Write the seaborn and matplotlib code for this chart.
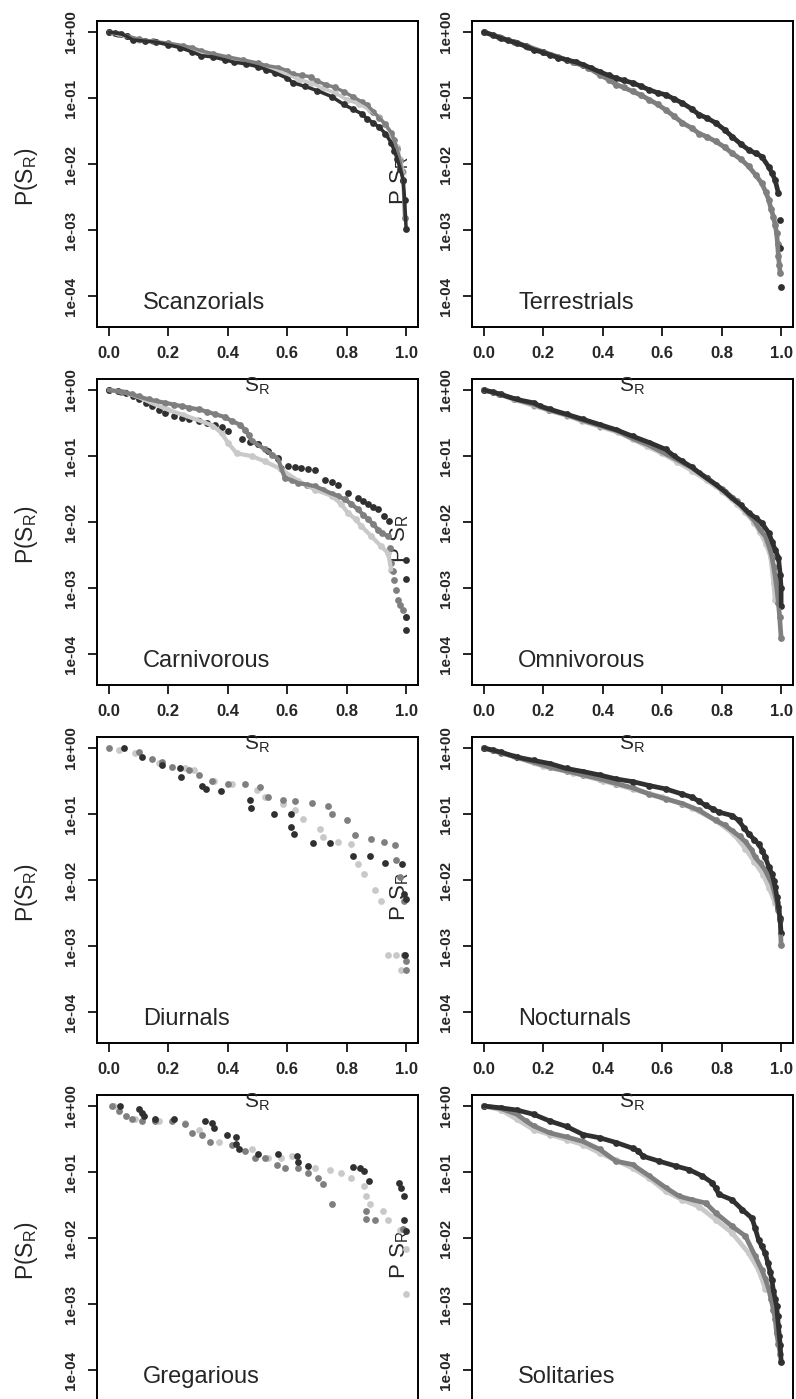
import matplotlib
matplotlib.use("Agg")
import matplotlib.pyplot as plt
from matplotlib import font_manager
import seaborn as sns

# Curvas P(S_R) (escuro / cinza médio / cinza claro)

# Scanzorials
scan_dark_x = [0.00, 0.02, 0.04, 0.06, 0.08, 0.12, 0.16, 0.20, 0.24, 0.28, 0.31, 0.35, 0.39, 0.42, 0.46, 0.50, 0.53, 0.56, 0.60, 0.62, 0.66, 0.70, 0.75, 0.79, 0.82, 0.85, 0.87, 0.89, 0.91, 0.93, 0.95, 0.96, 0.97, 0.98, 0.99, 0.995, 1.00]
scan_dark_p = [1.00, 0.97, 0.94, 0.86, 0.76, 0.73, 0.70, 0.64, 0.58, 0.50, 0.44, 0.42, 0.38, 0.35, 0.33, 0.30, 0.27, 0.24, 0.20, 0.17, 0.15, 0.13, 0.105, 0.080, 0.068, 0.058, 0.048, 0.042, 0.036, 0.029, 0.021, 0.016, 0.012, 0.0085, 0.0058, 0.0029, 0.00105]
scan_mid_x = [0.00, 0.03, 0.06, 0.10, 0.15, 0.20, 0.25, 0.28, 0.31, 0.35, 0.40, 0.45, 0.50, 0.53, 0.57, 0.60, 0.62, 0.65, 0.68, 0.70, 0.73, 0.76, 0.79, 0.82, 0.85, 0.87, 0.89, 0.91, 0.93, 0.95, 0.96, 0.97, 0.98, 0.985, 0.99, 0.995]
scan_mid_p = [1.00, 0.95, 0.88, 0.78, 0.72, 0.68, 0.62, 0.58, 0.52, 0.47, 0.42, 0.38, 0.34, 0.31, 0.29, 0.26, 0.23, 0.22, 0.21, 0.18, 0.16, 0.145, 0.125, 0.105, 0.088, 0.078, 0.062, 0.050, 0.040, 0.030, 0.023, 0.017, 0.011, 0.0078, 0.0055, 0.0015]
scan_light_x = [0.00, 0.10, 0.20, 0.30, 0.40, 0.50, 0.60, 0.64, 0.68, 0.72, 0.76, 0.80, 0.84, 0.88, 0.91, 0.93, 0.95, 0.97, 0.98, 0.99]
scan_light_p = [1.00, 0.76, 0.66, 0.50, 0.40, 0.32, 0.23, 0.19, 0.17, 0.14, 0.12, 0.095, 0.082, 0.065, 0.052, 0.040, 0.028, 0.018, 0.012, 0.0075]

# Terrestrials
terr_dark_x = [0.00, 0.03, 0.056, 0.08, 0.111, 0.14, 0.167, 0.20, 0.223, 0.25, 0.278, 0.31, 0.334, 0.36, 0.39, 0.42, 0.445, 0.47, 0.50, 0.53, 0.557, 0.585, 0.612, 0.64, 0.668, 0.70, 0.724, 0.75, 0.78, 0.81, 0.835, 0.865, 0.891, 0.915, 0.935, 0.958, 0.97, 0.98, 0.991]
terr_dark_p = [1.0, 0.90, 0.81, 0.75, 0.68, 0.61, 0.54, 0.49, 0.45, 0.41, 0.38, 0.35, 0.32, 0.285, 0.25, 0.22, 0.20, 0.185, 0.17, 0.15, 0.133, 0.12, 0.112, 0.097, 0.084, 0.068, 0.056, 0.050, 0.042, 0.033, 0.026, 0.020, 0.0164, 0.0145, 0.0130, 0.0091, 0.0072, 0.0057, 0.0036]
terr_dark_tail_x = [0.997, 0.997, 1.00]
terr_dark_tail_p = [0.0014, 0.00053, 0.000138]
terr_mid_x = [0.00, 0.05, 0.10, 0.15, 0.20, 0.25, 0.30, 0.35, 0.39, 0.42, 0.445, 0.47, 0.50, 0.53, 0.557, 0.585, 0.612, 0.64, 0.668, 0.70, 0.724, 0.75, 0.78, 0.81, 0.835, 0.865, 0.891, 0.915, 0.935, 0.948, 0.958, 0.966, 0.974, 0.98, 0.985, 0.988, 0.991, 0.994, 0.997]
terr_mid_p = [1.0, 0.84, 0.71, 0.60, 0.50, 0.42, 0.35, 0.29, 0.225, 0.19, 0.16, 0.145, 0.126, 0.11, 0.094, 0.08, 0.066, 0.053, 0.042, 0.035, 0.029, 0.026, 0.022, 0.018, 0.0146, 0.0118, 0.0092, 0.0068, 0.0051, 0.0038, 0.0029, 0.0021, 0.0016, 0.0012, 0.00089, 0.00062, 0.00040, 0.00030, 0.00022]

# Carnivorous
carn_dark_x = [0.00, 0.03, 0.056, 0.08, 0.10, 0.125, 0.145, 0.17, 0.19, 0.22, 0.246, 0.27, 0.302, 0.33, 0.358, 0.38, 0.402, 0.447, 0.475, 0.50, 0.536, 0.57, 0.603, 0.625, 0.648, 0.67, 0.693, 0.726, 0.75, 0.77, 0.804, 0.838, 0.855, 0.872, 0.89, 0.905, 0.927, 0.944, 1.0, 1.0, 1.0, 1.0]
carn_dark_p = [1.0, 0.96, 0.91, 0.82, 0.72, 0.64, 0.57, 0.50, 0.45, 0.41, 0.38, 0.36, 0.34, 0.32, 0.30, 0.28, 0.24, 0.18, 0.165, 0.15, 0.12, 0.094, 0.071, 0.068, 0.066, 0.063, 0.061, 0.044, 0.041, 0.037, 0.028, 0.023, 0.021, 0.0185, 0.017, 0.0155, 0.0123, 0.0103, 0.0027, 0.00138, 0.00037, 0.00023]
carn_mid_x = [0.00, 0.04, 0.078, 0.10, 0.134, 0.16, 0.19, 0.22, 0.246, 0.27, 0.302, 0.33, 0.358, 0.39, 0.413, 0.44, 0.458, 0.47, 0.48, 0.50, 0.525, 0.55, 0.57, 0.58, 0.592, 0.615, 0.637, 0.665, 0.693, 0.72, 0.749, 0.77, 0.793, 0.815, 0.838, 0.855, 0.872, 0.89, 0.905, 0.92, 0.939]
carn_mid_p = [1.0, 0.95, 0.86, 0.80, 0.72, 0.68, 0.64, 0.60, 0.57, 0.54, 0.51, 0.47, 0.43, 0.39, 0.34, 0.30, 0.25, 0.21, 0.17, 0.15, 0.126, 0.105, 0.089, 0.065, 0.047, 0.043, 0.039, 0.037, 0.035, 0.031, 0.027, 0.025, 0.022, 0.019, 0.0155, 0.013, 0.011, 0.0092, 0.0077, 0.0068, 0.0061]
carn_mid_tail_x = [0.945, 0.95, 0.955, 0.96, 0.966, 0.972, 0.98, 0.989, 1.0]
carn_mid_tail_p = [0.0040, 0.0024, 0.0018, 0.00134, 0.00095, 0.00066, 0.00055, 0.00047, 0.00037]
carn_light_x = [0.00, 0.05, 0.10, 0.15, 0.20, 0.25, 0.30, 0.35, 0.38, 0.40, 0.43, 0.48, 0.525, 0.58, 0.637, 0.693, 0.749, 0.78, 0.804, 0.83, 0.849, 0.883, 0.916, 0.939, 0.95]
carn_light_p = [1.0, 0.93, 0.78, 0.62, 0.50, 0.42, 0.35, 0.29, 0.22, 0.16, 0.11, 0.10, 0.083, 0.063, 0.042, 0.031, 0.025, 0.019, 0.0138, 0.011, 0.0087, 0.0061, 0.0043, 0.0034, 0.0019]

# Omnivorous
omni_dark_x = [0.00, 0.03, 0.056, 0.111, 0.167, 0.19, 0.223, 0.278, 0.334, 0.39, 0.445, 0.50, 0.557, 0.612, 0.64, 0.668, 0.70, 0.724, 0.75, 0.78, 0.81, 0.835, 0.865, 0.891, 0.915, 0.935, 0.958, 0.97, 0.98, 0.991, 0.997, 1.0, 1.0]
omni_dark_p = [1.0, 0.93, 0.86, 0.72, 0.64, 0.57, 0.51, 0.43, 0.36, 0.30, 0.25, 0.20, 0.16, 0.126, 0.10, 0.083, 0.068, 0.056, 0.046, 0.037, 0.029, 0.023, 0.018, 0.0138, 0.0115, 0.0097, 0.0069, 0.0050, 0.0038, 0.0029, 0.0016, 0.0010, 0.00053]
omni_mid_x = [0.00, 0.05, 0.10, 0.17, 0.22, 0.28, 0.33, 0.39, 0.45, 0.50, 0.55, 0.60, 0.65, 0.70, 0.75, 0.80, 0.85, 0.88, 0.91, 0.93, 0.947, 0.96, 0.969, 0.975, 0.98, 0.986, 0.991, 0.995, 1.0]
omni_mid_p = [1.0, 0.88, 0.74, 0.60, 0.50, 0.42, 0.35, 0.29, 0.24, 0.185, 0.15, 0.115, 0.088, 0.066, 0.047, 0.032, 0.021, 0.015, 0.0105, 0.0075, 0.0061, 0.0042, 0.0030, 0.0021, 0.0015, 0.00095, 0.00059, 0.00037, 0.000175]
omni_light_x = [0.00, 0.05, 0.10, 0.17, 0.22, 0.28, 0.33, 0.39, 0.45, 0.50, 0.55, 0.60, 0.65, 0.70, 0.75, 0.80, 0.85, 0.88, 0.91, 0.93, 0.95, 0.965, 0.975, 0.98]
omni_light_p = [1.0, 0.87, 0.72, 0.58, 0.49, 0.41, 0.34, 0.28, 0.23, 0.18, 0.14, 0.11, 0.082, 0.060, 0.043, 0.030, 0.019, 0.014, 0.0098, 0.0070, 0.0046, 0.0030, 0.0012, 0.00066]

# Diurnals
diur_dark_x = [0.05, 0.112, 0.179, 0.24, 0.243, 0.313, 0.326, 0.378, 0.475, 0.478, 0.556, 0.612, 0.612, 0.623, 0.687, 0.743, 0.821, 0.877, 0.93, 0.987, 0.994, 1.0, 0.997]
diur_dark_p = [1.0, 0.73, 0.55, 0.49, 0.37, 0.27, 0.24, 0.22, 0.165, 0.125, 0.10, 0.10, 0.063, 0.050, 0.036, 0.036, 0.023, 0.023, 0.018, 0.0173, 0.0062, 0.0052, 0.00074]
diur_mid_x = [0.00, 0.10, 0.145, 0.18, 0.212, 0.268, 0.302, 0.346, 0.402, 0.458, 0.508, 0.536, 0.587, 0.626, 0.682, 0.737, 0.749, 0.80, 0.827, 0.881, 0.927, 0.961, 0.967, 0.978, 0.994, 0.992, 1.0, 1.0]
diur_mid_p = [1.0, 0.87, 0.69, 0.62, 0.51, 0.46, 0.39, 0.32, 0.29, 0.29, 0.26, 0.18, 0.165, 0.16, 0.147, 0.131, 0.10, 0.082, 0.048, 0.042, 0.038, 0.034, 0.020, 0.0112, 0.0049, 0.00074, 0.00060, 0.00043]
diur_light_x = [0.034, 0.089, 0.168, 0.257, 0.285, 0.352, 0.413, 0.497, 0.525, 0.587, 0.626, 0.654, 0.709, 0.72, 0.771, 0.816, 0.838, 0.86, 0.894, 0.916, 0.939, 0.966, 0.983]
diur_light_p = [0.94, 0.85, 0.59, 0.49, 0.46, 0.32, 0.29, 0.23, 0.18, 0.144, 0.114, 0.085, 0.060, 0.045, 0.038, 0.035, 0.0178, 0.0125, 0.0070, 0.0049, 0.00074, 0.00072, 0.00043]

# Nocturnals
noct_dark_x = [0.00, 0.03, 0.056, 0.111, 0.167, 0.223, 0.278, 0.334, 0.39, 0.445, 0.50, 0.557, 0.612, 0.668, 0.70, 0.725, 0.746, 0.77, 0.79, 0.835, 0.857, 0.875, 0.891, 0.91, 0.924, 0.937, 0.947, 0.958, 0.969, 0.975, 0.98, 0.986, 0.991, 0.996, 1.0]
noct_dark_p = [1.0, 0.93, 0.87, 0.73, 0.65, 0.58, 0.49, 0.44, 0.39, 0.34, 0.31, 0.27, 0.24, 0.20, 0.18, 0.155, 0.135, 0.12, 0.107, 0.095, 0.080, 0.062, 0.050, 0.041, 0.035, 0.028, 0.022, 0.016, 0.0125, 0.0098, 0.0078, 0.0055, 0.0039, 0.0027, 0.0016]
noct_mid_x = [0.00, 0.056, 0.111, 0.167, 0.223, 0.278, 0.334, 0.39, 0.445, 0.50, 0.557, 0.612, 0.668, 0.724, 0.78, 0.81, 0.835, 0.86, 0.88, 0.90, 0.913, 0.93, 0.947, 0.958, 0.969, 0.977, 0.985, 0.991, 0.997, 1.0]
noct_mid_p = [1.0, 0.85, 0.72, 0.61, 0.51, 0.45, 0.39, 0.34, 0.29, 0.25, 0.20, 0.17, 0.144, 0.114, 0.080, 0.068, 0.056, 0.046, 0.038, 0.029, 0.022, 0.018, 0.014, 0.011, 0.0088, 0.0065, 0.0047, 0.0035, 0.0025, 0.00102]
noct_light_x = [0.00, 0.10, 0.20, 0.30, 0.40, 0.50, 0.60, 0.70, 0.78, 0.84, 0.88, 0.91, 0.94, 0.96, 0.98]
noct_light_p = [1.0, 0.75, 0.53, 0.42, 0.32, 0.24, 0.18, 0.125, 0.080, 0.050, 0.030, 0.019, 0.012, 0.0075, 0.0045]

# Gregarious
greg_dark_x = [0.039, 0.10, 0.112, 0.117, 0.154, 0.218, 0.324, 0.346, 0.355, 0.397, 0.427, 0.427, 0.438, 0.503, 0.568, 0.634, 0.635, 0.67, 0.821, 0.844, 0.86, 0.874, 0.975, 0.982, 0.994, 0.994, 1.0]
greg_dark_p = [1.0, 0.91, 0.79, 0.70, 0.64, 0.64, 0.59, 0.55, 0.46, 0.36, 0.34, 0.27, 0.22, 0.19, 0.19, 0.174, 0.142, 0.123, 0.120, 0.115, 0.103, 0.074, 0.069, 0.058, 0.043, 0.0186, 0.0126]
greg_mid_x = [0.011, 0.034, 0.056, 0.078, 0.112, 0.156, 0.212, 0.257, 0.279, 0.313, 0.341, 0.413, 0.458, 0.492, 0.525, 0.564, 0.592, 0.637, 0.67, 0.704, 0.721, 0.751, 0.866, 0.866, 0.897, 0.989]
greg_mid_p = [1.0, 0.84, 0.70, 0.64, 0.59, 0.59, 0.59, 0.53, 0.39, 0.37, 0.29, 0.26, 0.21, 0.165, 0.165, 0.13, 0.115, 0.115, 0.097, 0.082, 0.065, 0.033, 0.026, 0.0195, 0.0186, 0.0137]
greg_light_x = [0.017, 0.089, 0.168, 0.257, 0.302, 0.369, 0.48, 0.536, 0.58, 0.615, 0.693, 0.743, 0.782, 0.816, 0.86, 0.866, 0.88, 0.922, 0.939, 0.978, 1.0, 1.0]
greg_light_p = [1.0, 0.64, 0.59, 0.56, 0.44, 0.29, 0.22, 0.165, 0.165, 0.174, 0.115, 0.109, 0.097, 0.082, 0.061, 0.044, 0.033, 0.026, 0.0186, 0.0134, 0.0069, 0.0014]

# Solitaries
sol_dark_x = [0.00, 0.056, 0.111, 0.167, 0.223, 0.278, 0.334, 0.39, 0.445, 0.50, 0.52, 0.535, 0.59, 0.646, 0.69, 0.735, 0.768, 0.78, 0.79, 0.835, 0.869, 0.902, 0.913, 0.924, 0.935, 0.947, 0.955, 0.963, 0.969, 0.974, 0.98, 0.985, 0.988, 0.991, 0.994, 0.997, 1.0]
sol_dark_p = [1.0, 0.94, 0.87, 0.75, 0.59, 0.49, 0.37, 0.33, 0.28, 0.23, 0.21, 0.174, 0.146, 0.123, 0.109, 0.087, 0.069, 0.057, 0.046, 0.038, 0.027, 0.020, 0.014, 0.0094, 0.0075, 0.0059, 0.0042, 0.0031, 0.0023, 0.0016, 0.0012, 0.00092, 0.00065, 0.00046, 0.00033, 0.00024, 0.000134]
sol_mid_x = [0.00, 0.056, 0.111, 0.14, 0.167, 0.223, 0.278, 0.334, 0.39, 0.445, 0.50, 0.557, 0.612, 0.657, 0.70, 0.746, 0.78, 0.835, 0.88, 0.913, 0.935, 0.947, 0.958, 0.966, 0.974, 0.98, 0.985, 0.991, 0.997]
sol_mid_p = [1.0, 0.92, 0.75, 0.60, 0.50, 0.39, 0.34, 0.29, 0.22, 0.146, 0.13, 0.087, 0.058, 0.043, 0.038, 0.034, 0.024, 0.0151, 0.0107, 0.0053, 0.0033, 0.0024, 0.0017, 0.0012, 0.00082, 0.00060, 0.00036, 0.00025, 0.000178]
sol_light_x = [0.00, 0.056, 0.111, 0.167, 0.223, 0.278, 0.334, 0.39, 0.445, 0.50, 0.557, 0.612, 0.668, 0.724, 0.78, 0.835, 0.891, 0.924, 0.947]
sol_light_p = [1.0, 0.88, 0.63, 0.44, 0.37, 0.31, 0.26, 0.195, 0.15, 0.115, 0.08, 0.051, 0.038, 0.030, 0.019, 0.012, 0.0059, 0.0033, 0.0017]

x_ticks = [0.0, 0.2, 0.4, 0.6, 0.8, 1.0]
x_tick_labels = ["0.0", "0.2", "0.4", "0.6", "0.8", "1.0"]
y_ticks = [1, 0.1, 0.01, 0.001, 0.0001]
y_tick_labels = ["1e+00", "1e-01", "1e-02", "1e-03", "1e-04"]

DARK = "#303030"
MID = "#7f7f7f"
LIGHT = "#c9c9c9"

# (nome, [(x, p, cor, espessura da faixa)]) -- espessura 0 = só pontos
panels = [
    ("Scanzorials", [(scan_light_x, scan_light_p, LIGHT, 2.5),
                     (scan_mid_x, scan_mid_p, MID, 2.5),
                     (scan_dark_x, scan_dark_p, DARK, 2.5)]),
    ("Terrestrials", [(terr_mid_x, terr_mid_p, MID, 3.4),
                      (terr_dark_x, terr_dark_p, DARK, 3.4),
                      (terr_dark_tail_x, terr_dark_tail_p, DARK, 0)]),
    ("Carnivorous", [(carn_light_x, carn_light_p, LIGHT, 3.0),
                     (carn_mid_x, carn_mid_p, MID, 3.0),
                     (carn_mid_tail_x, carn_mid_tail_p, MID, 0),
                     (carn_dark_x, carn_dark_p, DARK, 0)]),
    ("Omnivorous", [(omni_light_x, omni_light_p, LIGHT, 3.4),
                    (omni_mid_x, omni_mid_p, MID, 3.4),
                    (omni_dark_x, omni_dark_p, DARK, 3.4)]),
    ("Diurnals", [(diur_light_x, diur_light_p, LIGHT, 0),
                  (diur_mid_x, diur_mid_p, MID, 0),
                  (diur_dark_x, diur_dark_p, DARK, 0)]),
    ("Nocturnals", [(noct_light_x, noct_light_p, LIGHT, 3.4),
                    (noct_mid_x, noct_mid_p, MID, 3.4),
                    (noct_dark_x, noct_dark_p, DARK, 3.4)]),
    ("Gregarious", [(greg_light_x, greg_light_p, LIGHT, 0),
                    (greg_mid_x, greg_mid_p, MID, 0),
                    (greg_dark_x, greg_dark_p, DARK, 0)]),
    ("Solitaries", [(sol_light_x, sol_light_p, LIGHT, 3.4),
                    (sol_mid_x, sol_mid_p, MID, 3.4),
                    (sol_dark_x, sol_dark_p, DARK, 3.4)]),
]

sns.set_theme(style="ticks")
plt.rcParams["font.family"] = ["Liberation Sans", "DejaVu Sans"]
plt.rcParams["mathtext.fontset"] = "custom"
plt.rcParams["mathtext.rm"] = "Liberation Sans"
plt.rcParams["mathtext.it"] = "Liberation Sans:italic"
plt.rcParams["mathtext.bf"] = "Liberation Sans:bold"

installed = {f.name for f in font_manager.fontManager.ttflist}
ytick_font = "Liberation Sans Narrow" if "Liberation Sans Narrow" in installed else "Liberation Sans"

W, H = 796, 1399
fig = plt.figure(figsize=(W / 100, H / 100), dpi=100)
fig.patch.set_facecolor("white")

col_left = [97, 472]
row_top = [21, 379, 737, 1095]
box_w, box_h = 321, 306
n_rows = len(row_top)

left_axes = {}
for i, (name, series) in enumerate(panels):
    row, col = divmod(i, 2)
    left, top = col_left[col], row_top[row]
    ax = fig.add_axes([left / W, 1 - (top + box_h) / H, box_w / W, box_h / H])
    ax.set_facecolor("white")
    ax.set_yscale("log")

    for xs, ps, color, band in series:
        if band > 0:
            sns.lineplot(x=xs, y=ps, color=color, lw=band, sort=False, estimator=None,
                         solid_capstyle="round", ax=ax)
        sns.scatterplot(x=xs, y=ps, color=color, s=24, linewidth=0, ax=ax)

    ax.set_xlim(-0.04, 1.04)
    ax.set_ylim(3.4e-5, 1.47)
    ax.set_xticks(x_ticks)
    ax.set_xticklabels(x_tick_labels, fontsize=12, fontweight="bold")
    ax.set_yticks(y_ticks)
    ax.set_yticklabels(y_tick_labels, fontsize=11, fontweight="bold", rotation=90,
                       va="center", family=ytick_font)
    ax.minorticks_off()
    ax.tick_params(direction="out", length=6.5, width=1.2, color="black", pad=7,
                   left=True, bottom=True, top=False, right=False)
    if row == n_rows - 1:
        # a última linha está cortada na figura original: sem rótulos do eixo x
        ax.tick_params(labelbottom=False)
    for sp in ax.spines.values():
        sp.set_visible(True)
        sp.set_color("black")
        sp.set_linewidth(1.4)
    ax.grid(False)
    ax.set_xlabel("")
    ax.set_ylabel("")

    ax.text(0.115, 6.3e-5, name, fontsize=17, ha="left", va="baseline")

    # rótulo do eixo x (cai dentro do painel de baixo, como no original)
    if row < n_rows - 1:
        fig.text((left + box_w / 2) / W, 1 - (top + box_h + 65) / H, r"S$_\mathregular{R}$",
                 ha="center", va="baseline", fontsize=15)

    if col == 0:
        left_axes[row] = ax
        fig.text(26 / W, 1 - (top + 156) / H, r"P(S$_\mathregular{R}$)", rotation=90,
                 ha="center", va="center", fontsize=16.5)
    else:
        # rótulo y do painel da direita fica por baixo dos pontos do painel esquerdo
        left_axes[row].text(400 / W, 1 - (top + 160) / H, r"P S$_\mathregular{R}$",
                            rotation=90, ha="center", va="center", fontsize=16,
                            transform=fig.transFigure, zorder=0.5, clip_on=False)

fig.savefig("out.png", dpi=100, facecolor="white")
